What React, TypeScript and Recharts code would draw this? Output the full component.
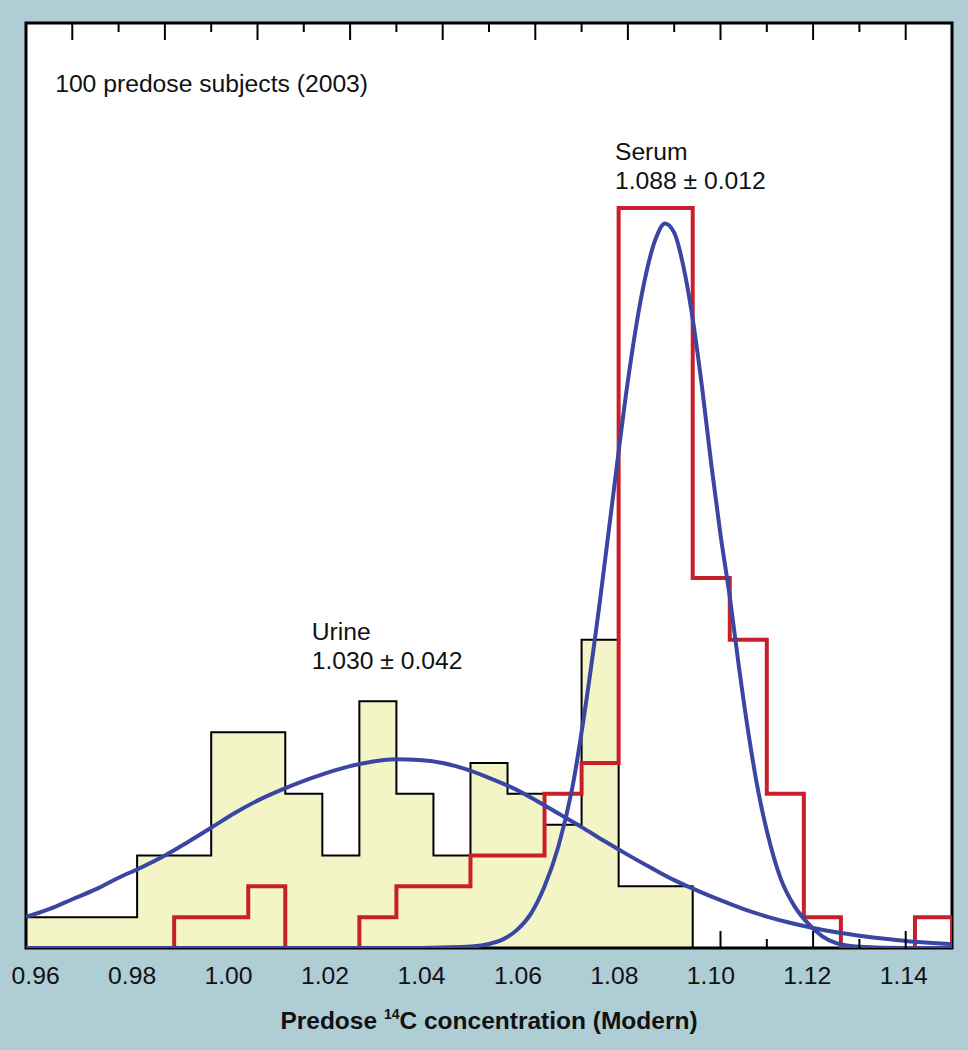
import React from "react";
import {
  Area,
  CartesianGrid,
  ComposedChart,
  Label,
  Line,
  ReferenceArea,
  ReferenceDot,
  XAxis,
  YAxis,
} from "recharts";

// histogram bins (Modern), 25 bins of 0.008
const binEdges = [
  0.95, 0.958, 0.966, 0.974, 0.982, 0.99, 0.998, 1.006, 1.014, 1.022, 1.03,
  1.038, 1.046, 1.054, 1.062, 1.07, 1.078, 1.086, 1.094, 1.102, 1.11, 1.118,
  1.126, 1.134, 1.142, 1.15,
];
const urineCounts = [1, 1, 1, 3, 3, 7, 7, 5, 3, 8, 5, 3, 6, 5, 4, 10, 2, 2, 0, 0, 0, 0, 0, 0, 0];
const serumCounts = [0, 0, 0, 0, 1, 1, 2, 0, 0, 1, 2, 2, 3, 3, 5, 6, 24, 24, 12, 10, 5, 1, 0, 0, 1];

// fitted curves
const urineFitX = [
  0.95, 0.955, 0.96, 0.965, 0.97, 0.975, 0.98, 0.985, 0.99, 0.995, 1.0, 1.005,
  1.01, 1.015, 1.02, 1.025, 1.03, 1.035, 1.04, 1.045, 1.05, 1.055, 1.06, 1.065,
  1.07, 1.075, 1.08, 1.085, 1.09, 1.095, 1.1, 1.105, 1.11, 1.115, 1.12, 1.125,
  1.13, 1.135, 1.14, 1.145, 1.15,
];
const urineFitY = [
  1.01, 1.26, 1.58, 1.9, 2.28, 2.62, 3.0, 3.44, 3.9, 4.37, 4.78, 5.12, 5.42,
  5.68, 5.9, 6.05, 6.12, 6.1, 6.0, 5.8, 5.52, 5.2, 4.8, 4.36, 3.92, 3.46, 3.02,
  2.6, 2.2, 1.86, 1.55, 1.26, 1.02, 0.82, 0.65, 0.51, 0.4, 0.31, 0.23, 0.17,
  0.12,
];
const serumFitX = [
  0.95, 1.0, 1.03, 1.04, 1.046, 1.05, 1.053, 1.056, 1.059, 1.062, 1.065, 1.068,
  1.071, 1.074, 1.077, 1.08, 1.083, 1.086, 1.088, 1.09, 1.092, 1.094, 1.096,
  1.098, 1.1, 1.102, 1.104, 1.106, 1.108, 1.11, 1.113, 1.116, 1.119, 1.122,
  1.125, 1.13, 1.14, 1.15,
];
const serumFitY = [
  0, 0, 0, 0.02, 0.05, 0.13, 0.28, 0.58, 1.1, 2.0, 3.3, 5.2, 8.0, 11.3, 14.9,
  18.4, 21.2, 23.0, 23.5, 23.2, 22.1, 20.4, 18.2, 15.7, 13.4, 11.4, 9.1, 7.0,
  5.2, 3.8, 2.25, 1.35, 0.78, 0.38, 0.16, 0.04, 0, 0,
];

const frameTicks = [
  0.96, 0.97, 0.98, 0.99, 1.0, 1.01, 1.02, 1.03, 1.04, 1.05, 1.06, 1.07, 1.08,
  1.09, 1.1, 1.11, 1.12, 1.13, 1.14,
];
const tickLabels = [0.96, 0.98, 1.0, 1.02, 1.04, 1.06, 1.08, 1.1, 1.12, 1.14];

const FONT = '"Liberation Sans", Arial, Helvetica, sans-serif';
const BG = "#afcdd5";
const YELLOW = "#f4f5c6";
const RED = "#c8202a";
const BLUE = "#3b46a2";

const toSteps = (counts: number[]) => [
  ...binEdges.map((x, i) => ({ x, y: counts[Math.min(i, counts.length - 1)] })),
  { x: binEdges[binEdges.length - 1], y: 0 },
];
const toPoints = (xs: number[], ys: number[]) => xs.map((x, i) => ({ x, y: ys[i] }));

const urineSteps = toSteps(urineCounts);
const serumSteps = toSteps(serumCounts);
const urineFit = toPoints(urineFitX, urineFitY);
const serumFit = toPoints(serumFitX, serumFitY);
// invisible anchors so the helper axes get a scale
const labelAnchors = tickLabels.map((x) => ({ x, y: 0 }));
const frameAnchors = frameTicks.map((x) => ({ x, y: 0 }));

const isMajor = (v: number) => Math.round(v * 100) % 2 === 0;

// the bottom ticks sit behind the yellow urine fill in the original
const underUrine = (v: number) => {
  const i = binEdges.findIndex((e, k) => k < binEdges.length - 1 && v >= e && v < binEdges[k + 1]);
  return i >= 0 && urineCounts[i] > 0;
};

const TopTick = ({ x, y, payload }: any) => (
  <line x1={x} x2={x} y1={y} y2={y + (isMajor(payload.value) ? 17 : 9)} stroke="#000" strokeWidth={2} />
);

const BottomTick = ({ x, y, payload }: any) =>
  underUrine(payload.value) ? (
    <g />
  ) : (
    <line x1={x} x2={x} y1={y} y2={y - (isMajor(payload.value) ? 17 : 9)} stroke="#000" strokeWidth={2} />
  );

const LabelTick = ({ x, y, payload }: any) => (
  <text x={x} y={y + 35} textAnchor="middle" fontSize={24.7} fontFamily={FONT} fill="#111">
    {payload.value.toFixed(2)}
  </text>
);

const AxisTitle = ({ viewBox }: any) => (
  <text
    x={viewBox.x + viewBox.width / 2}
    y={viewBox.y + 80}
    textAnchor="middle"
    fontSize={24.5}
    fontWeight="bold"
    fontFamily={FONT}
    fill="#111"
  >
    Predose{" "}
    <tspan fontSize={14} dy={-10}>
      14
    </tspan>
    <tspan dy={10}>C concentration (Modern)</tspan>
  </text>
);

const note = (text: string) => (p: any) => (
  <text x={p.cx} y={p.cy} fontSize={24.7} fontFamily={FONT} fill="#111">
    {text}
  </text>
);

export default function App() {
  return (
    <div style={{ position: "absolute", left: 0, top: 0, width: 968, height: 1050, background: BG }}>
      <ComposedChart width={968} height={1050} margin={{ top: 22, right: 16, bottom: 0, left: 26 }}>
        <CartesianGrid horizontal={false} vertical={false} fill="#fff" xAxisId="base" />
        <XAxis
          xAxisId="labels"
          dataKey="x"
          type="number"
          domain={[0.958, 1.15]}
          ticks={tickLabels}
          interval={0}
          height={101}
          tickSize={0}
          tickMargin={0}
          axisLine={false}
          tickLine={false}
          tick={LabelTick}
          allowDataOverflow
        >
          <Label content={AxisTitle} />
        </XAxis>
        <XAxis
          xAxisId="base"
          dataKey="x"
          type="number"
          domain={[0.95, 1.15]}
          ticks={frameTicks}
          interval={0}
          height={1}
          tickSize={0}
          tickMargin={0}
          axisLine={false}
          tickLine={false}
          tick={BottomTick}
          allowDataOverflow
        />
        <XAxis
          xAxisId="top"
          dataKey="x"
          orientation="top"
          type="number"
          domain={[0.95, 1.15]}
          ticks={frameTicks}
          interval={0}
          height={1}
          tickSize={0}
          tickMargin={0}
          axisLine={false}
          tickLine={false}
          tick={TopTick}
          allowDataOverflow
        />
        <YAxis type="number" domain={[0, 30]} hide allowDataOverflow />

        <Line xAxisId="labels" data={labelAnchors} dataKey="y" stroke="none" dot={false} isAnimationActive={false} />
        <Line xAxisId="top" data={frameAnchors} dataKey="y" stroke="none" dot={false} isAnimationActive={false} />

        <Area
          xAxisId="base"
          data={urineSteps}
          dataKey="y"
          type="stepAfter"
          fill={YELLOW}
          fillOpacity={1}
          stroke="#000"
          strokeWidth={2}
          baseValue={0}
          isAnimationActive={false}
        />
        <Line
          xAxisId="base"
          data={serumSteps}
          dataKey="y"
          type="stepAfter"
          stroke={RED}
          strokeWidth={4}
          dot={false}
          isAnimationActive={false}
        />
        <Line
          xAxisId="base"
          data={urineFit}
          dataKey="y"
          type="monotone"
          stroke={BLUE}
          strokeWidth={4}
          dot={false}
          isAnimationActive={false}
        />
        <Line
          xAxisId="base"
          data={serumFit}
          dataKey="y"
          type="monotone"
          stroke={BLUE}
          strokeWidth={4}
          dot={false}
          isAnimationActive={false}
        />

        <ReferenceArea
          xAxisId="base"
          x1={0.95}
          x2={1.15}
          y1={0}
          y2={30}
          fill="none"
          stroke="#000"
          strokeWidth={3}
        />
        <ReferenceDot xAxisId="base" x={0.9563} y={27.77} r={0} shape={note("100 predose subjects (2003)")} />
        <ReferenceDot xAxisId="base" x={1.0772} y={25.56} r={0} shape={note("Serum")} />
        <ReferenceDot xAxisId="base" x={1.0772} y={24.62} r={0} shape={note("1.088 ± 0.012")} />
        <ReferenceDot xAxisId="base" x={1.0117} y={9.99} r={0} shape={note("Urine")} />
        <ReferenceDot xAxisId="base" x={1.0117} y={9.04} r={0} shape={note("1.030 ± 0.042")} />
      </ComposedChart>
    </div>
  );
}
